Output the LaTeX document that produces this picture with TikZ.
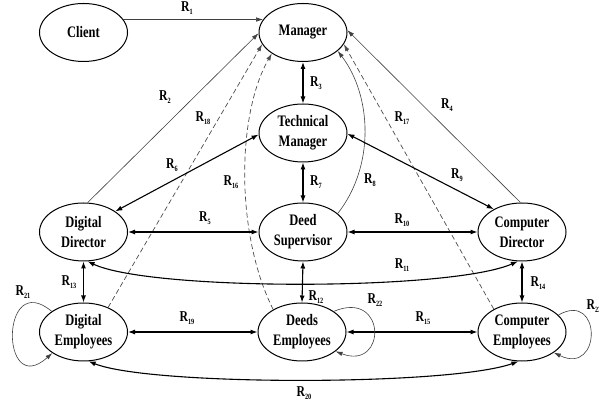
\documentclass[tikz,border=0pt]{standalone}
\usepackage{fontspec}
\setmainfont{Liberation Serif}
\newfontfamily\nodefont{Liberation Serif}[FakeStretch=0.78]
\usetikzlibrary{arrows.meta,shapes.geometric}
\newcommand\Rlab[1]{R\raisebox{-0.4ex}{\fontsize{8}{8}\selectfont #1}}
\tikzset{
  ent/.style={ellipse,draw,line width=1pt,minimum width=88pt,minimum height=58pt,inner sep=0pt,
    align=center,font=\nodefont\fontsize{16}{20}\selectfont\bfseries},
  rel/.style={draw,line width=1.1pt,{Latex[length=7pt,width=5pt]}-{Latex[length=7pt,width=5pt]}},
  one/.style={draw,line width=0.6pt,draw=black!75,-{Latex[length=7pt,width=4.5pt]}},
  dsh/.style={draw,line width=0.7pt,draw=black!70,dash pattern=on 5pt off 3pt,-{Latex[length=7pt,width=4.5pt]}},
  lab/.style={font=\nodefont\fontsize{15}{15}\selectfont\bfseries,inner sep=0pt}
}
\begin{document}
\begin{tikzpicture}[x=1pt,y=1pt]
\useasboundingbox (0,0) rectangle (599,406);
% nodes
\node[ent] (client) at (83.5,373.5) {Client};
\node[ent] (manager) at (303,373.5) {Manager};
\node[ent] (tech) at (303,273) {Technical\\Manager};
\node[ent] (deed) at (303,174) {Deed\\Supervisor};
\node[ent] (ddir) at (83.5,174) {Digital\\Director};
\node[ent] (cdir) at (522,174) {Computer\\Director};
\node[ent] (demp) at (83.5,74) {Digital\\Employees};
\node[ent] (dsemp) at (302,74) {Deeds\\Employees};
\node[ent] (cemp) at (522,74) {Computer\\Employees};
% one-way to manager
\draw[one] (client.18) -- (manager.162);
\draw[one] (ddir.82) -- (manager.181);
\draw[one] (cdir.93) -- (manager.3);
\draw[one] (deed.28) .. controls (375,240) and (372,310) .. (manager.-28);
\draw[dsh] (demp.45) -- (manager.196);
\draw[dsh] (dsemp.142) .. controls (236,170) and (236,290) .. (manager.214);
\draw[dsh] (cemp.141) -- (manager.-16);
% two-way
\draw[rel] (manager.south) -- (tech.north);
\draw[rel] (tech.south) -- (deed.north);
\draw[rel] (ddir.33) -- (tech.182);
\draw[rel] (cdir.141) -- (tech.-1);
\draw[rel] (ddir.east) -- (deed.west);
\draw[rel] (deed.east) -- (cdir.west);
\draw[rel] (ddir.-82) .. controls (150,115) and (450,115) .. (cdir.-98);
\draw[rel] (ddir.south) -- (demp.north);
\draw[rel] (deed.south) -- (dsemp.north);
\draw[rel] (cdir.south) -- (cemp.north);
\draw[rel] (demp.east) -- (dsemp.west);
\draw[rel] (dsemp.east) -- (cemp.west);
\draw[rel] (demp.-80) .. controls (150,20) and (450,20) .. (cemp.-97);
% loops
\draw[one] (demp.147) .. controls (0,138) and (0,6) .. (demp.214);
\draw[one] (dsemp.33) .. controls (387,117) and (387,35) .. (dsemp.-30);
\draw[one] (cemp.25) .. controls (602,116) and (602,30) .. (cemp.-33);
% labels
\node[lab] (l1) at (187,398) {\Rlab{1}};
\node[lab] (l2) at (165,309) {\Rlab{2}};
\node[lab] (l3) at (316,323) {\Rlab{3}};
\node[lab] (l4) at (447,301) {\Rlab{4}};
\node[lab] (l5) at (205,188) {\Rlab{5}};
\node[lab] (l6) at (172,241) {\Rlab{6}};
\node[lab] (l7) at (316,224) {\Rlab{7}};
\node[lab] (l8) at (370,226) {\Rlab{8}};
\node[lab] (l9) at (457,231) {\Rlab{9}};
\node[lab] (l10) at (402,186) {\Rlab{10}};
\node[lab] (l11) at (402,141) {\Rlab{11}};
\node[lab] (l12) at (69,124) {\Rlab{13}};
\node[lab] (l13) at (316,109) {\Rlab{12}};
\node[lab] (l14) at (538,123) {\Rlab{14}};
\node[lab] (l15) at (423,88) {\Rlab{15}};
\node[lab] (l16) at (231,224) {\Rlab{16}};
\node[lab] (l17) at (402,288) {\Rlab{17}};
\node[lab] (l18) at (203,288) {\Rlab{18}};
\node[lab] (l19) at (187,88) {\Rlab{19}};
\node[lab] (l20) at (304,13) {\Rlab{20}};
\node[lab] (l21) at (23,114) {\Rlab{21}};
\node[lab] (l22) at (375,106) {\Rlab{22}};
\node[lab] (l23) at (594,100) {\Rlab{23}};
\end{tikzpicture}
\end{document}
